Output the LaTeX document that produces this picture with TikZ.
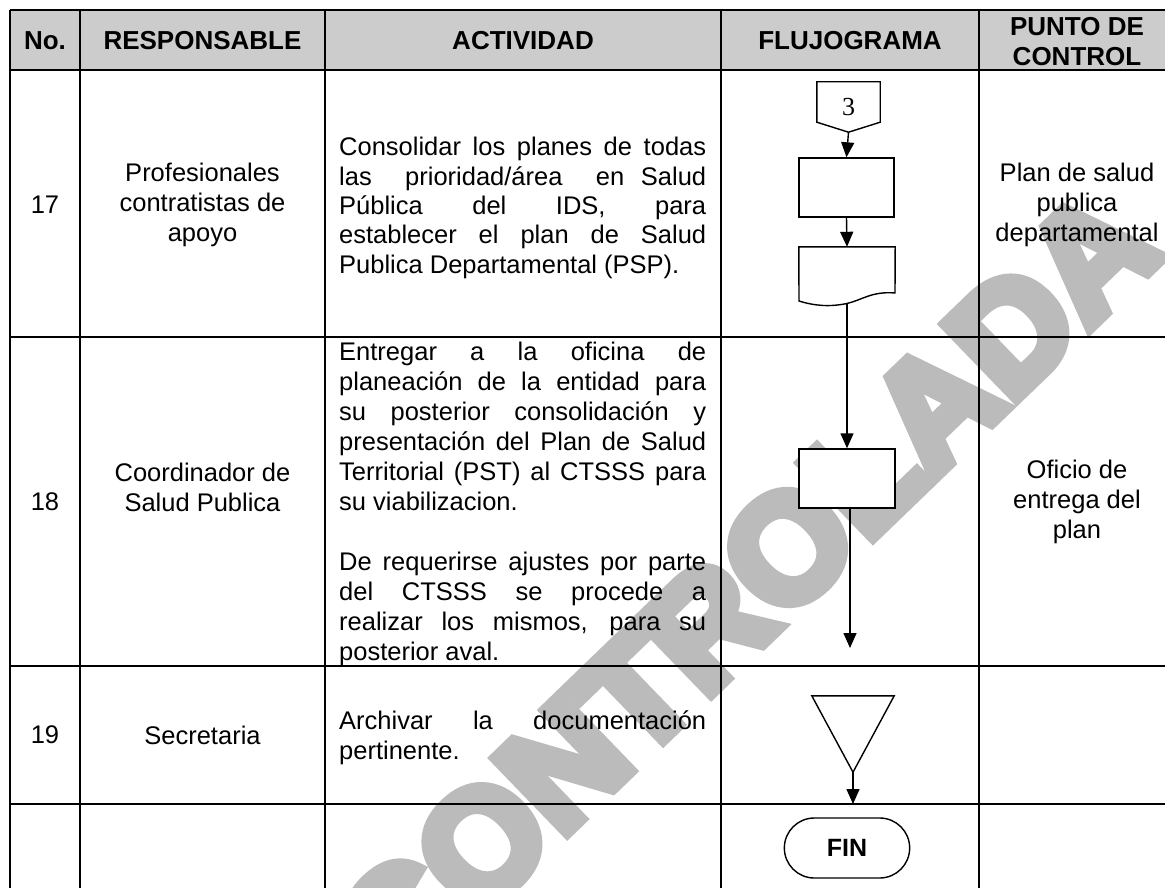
\documentclass[tikz,border=0pt]{standalone}
\usepackage{fontspec}
\setmainfont{Liberation Sans}
\newfontfamily\serifnum{Liberation Serif}
\newfontfamily\wmfont[FakeBold=8]{Liberation Sans Bold}
\usetikzlibrary{arrows.meta,shapes.misc,calc}
\definecolor{hdrgray}{HTML}{CCCCCC}
\definecolor{wmgray}{HTML}{BBBBBB}
\tikzset{
  tblline/.style={line width=2.2pt},
  hdr/.style={font=\bfseries\fontsize{26}{30}\selectfont, inner sep=0pt, align=center},
  body/.style={font=\fontsize{25.5}{30}\selectfont, inner sep=0pt},
  bodyc/.style={body, align=center},
  actv/.style={body, text width=367pt, align=justify},
  flowline/.style={line width=1.4pt},
  fbox/.style={draw, fill=white, line width=1.4pt, minimum width=95pt, minimum height=59pt, inner sep=0pt},
  ghost/.style={draw=none, inner sep=0pt},
  arr/.style={line width=1.4pt, -{Triangle[length=15pt,width=13pt]}},
}
\begin{document}
\begin{tikzpicture}[x=1pt,y=-1pt]
\useasboundingbox (0,0) rectangle (1165,888);
% watermark
\node[rotate=44, text=wmgray, font=\wmfont\fontsize{150}{150}\selectfont, inner sep=0pt] (wm) at (746,588) {CONTROLADA};
% header background
\fill[hdrgray] (10,10) rectangle (1185,70);
% table lines
\foreach \yy in {10,70,337,666,804} \draw[tblline] (10,\yy) -- (1185,\yy);
\foreach \xx in {10,80,325,721,979} \draw[tblline] (\xx,10) -- (\xx,895);
% header texts
\node[hdr] (hno) at (45,41) {No.};
\node[hdr] (hresp) at (202.5,41) {RESPONSABLE};
\node[hdr] (hact) at (523,41) {ACTIVIDAD};
\node[hdr] (hflu) at (850,41) {FLUJOGRAMA};
\node[hdr] (hpc) at (1077,41.5) {PUNTO DE\\CONTROL};
% numbers
\node[body] (n17) at (45,205) {17};
\node[body] (n18) at (45,502) {18};
\node[body] (n19) at (45,735) {19};
% responsables
\node[bodyc] (r17) at (202.5,205) {Profesionales\\contratistas de\\apoyo};
\node[bodyc] (r18) at (202.5,487) {Coordinador de\\Salud Publica};
\node[bodyc] (r19) at (202.5,735) {Secretaria};
% actividades
\node[actv, anchor=base west, font=\fontsize{25.5}{29.3}\selectfont] (a17) at (339,156) {Consolidar los planes de todas\linebreak las\ \ prioridad/área\ \ en Salud\linebreak Pública del IDS, para\linebreak establecer el plan de Salud\linebreak Publica Departamental (PSP).};
\node[actv, anchor=base west] (a18) at (339,360.6) {Entregar a la oficina de\linebreak planeación de la entidad para\linebreak su posterior consolidación y\linebreak presentación del Plan de Salud\linebreak Territorial (PST) al CTSSS para\linebreak su viabilizacion.\par\vskip 30pt De requerirse ajustes por parte\linebreak del CTSSS se procede a\linebreak realizar los mismos, para su\linebreak posterior aval.};
\node[actv, anchor=base west] (a19) at (339,729.4) {Archivar la documentación\linebreak pertinente.};
% puntos de control
\node[bodyc] (p17) at (1077,205) {Plan de salud\\publica\\departamental};
\node[bodyc] (p18) at (1077,502) {Oficio de\\entrega del\\plan};
% flowchart
\node[ghost, minimum width=63pt, minimum height=50pt, font=\serifnum\fontsize{26}{30}\selectfont] (c3) at (848.5,107) {3};
\draw[flowline] (c3.north west) -- (c3.north east) -- ([yshift=10pt]c3.south east) -- (c3.south) -- ([yshift=10pt]c3.south west) -- cycle;
\node[fbox] (b1) at (846.5,187.5) {};
\node[ghost, minimum width=96pt, minimum height=56pt] (doc) at (847,275) {};
\draw[flowline, fill=white] (doc.north west) -- (doc.north east) -- (895,293) .. controls (872,291) and (862,300) .. (847,303.5) .. controls (830,307) and (815,306) .. (799,301) -- cycle;
\coordinate (docb) at (847,303.5);
\node[fbox, minimum width=96pt] (b2) at (847,478.5) {};
\coordinate (end18) at (850,648);
\node[ghost, minimum width=82pt, minimum height=76pt] (tri) at (853,734) {};
\draw[flowline] (tri.north west) -- (tri.north east) -- (tri.south) -- cycle;
\coordinate (end19) at (853,804);
\node[draw, rounded rectangle, minimum width=132pt, minimum height=60pt, line width=1.4pt, font=\bfseries\fontsize{25}{30}\selectfont] (fin) at (847,848) {FIN};
% connectors
\draw[arr] (c3.south) -- (b1.north);
\draw[arr] (b1.south) -- (doc.north);
\draw[arr] (docb) -- (b2.north);
\draw[arr] ([xshift=3pt]b2.south) -- (end18);
\draw[arr] (tri.south) -- (end19);
\end{tikzpicture}
\end{document}
